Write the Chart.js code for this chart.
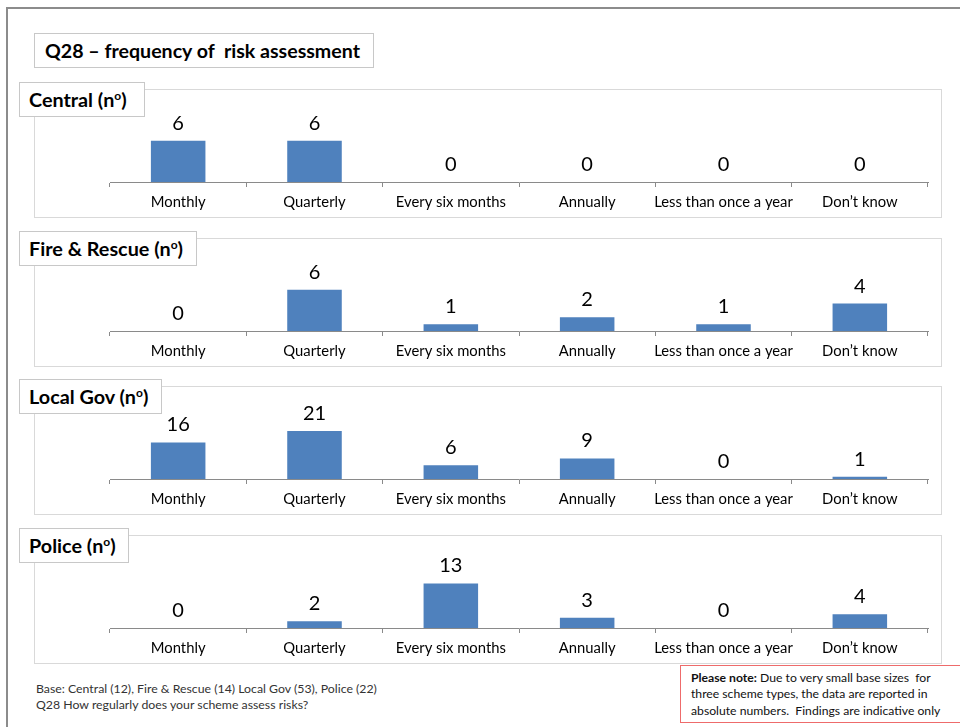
<!DOCTYPE html>
<html>
  <head>
    <meta charset="utf-8">
    <title>Q28 - frequency of risk assessment</title>
    <script src="https://cdn.jsdelivr.net/npm/chart.js@4.4.1/dist/chart.umd.min.js"></script>
    <style>
      body { margin: 0; background: #fff; font-family: Lato, 'Open Sans', sans-serif; }
      .pagina { position: relative; width: 960px; height: 727px; overflow: hidden; }
      .marco { position: absolute; left: 6px; top: 7px; width: 1000px; height: 800px;
               border-left: 2px solid #8c8c8c; border-top: 2px solid #8c8c8c; }
      .titulo { position: absolute; left: 34px; top: 33px; width: 340px; height: 35px; box-sizing: border-box;
                border: 1px solid #c8c8c8; background: #fff; font-weight: bold; font-size: 19.6px;
                line-height: 33px; padding-left: 10px; color: #000; white-space: nowrap; }
      .panel { position: absolute; left: 34px; width: 908px; height: 129px; box-sizing: border-box;
               border: 1px solid #d9d9d9; background: #fff; }
      .panel .lienzo { position: absolute; left: 0; top: 0; right: 0; bottom: 0; }
      .etiqueta { position: absolute; left: 19px; height: 35px; box-sizing: border-box; border: 1px solid #c8c8c8;
                  background: #fff; font-weight: bold; font-size: 19.8px; line-height: 33px; padding: 0 0 0 9px; color: #000;
                  white-space: nowrap; }
      .etiqueta sup { font-size: 12px; vertical-align: 7px; line-height: 0; }
      .base { position: absolute; left: 36px; top: 681px; font-size: 12.3px; line-height: 16px; color: #333; white-space: nowrap; }
      .nota { position: absolute; left: 680px; top: 665px; width: 290px; height: 58px; box-sizing: border-box;
              border: 1.5px solid #ee6b6b; font-size: 12.2px; line-height: 16.4px; padding: 4px 0 0 10px; color: #111;
              white-space: nowrap; }
    </style>
  </head>
  <body>
    <div class="pagina" id="pagina">
      <div class="marco"></div>
      <div class="titulo">Q28 – frequency of&nbsp; risk assessment</div>
      <div class="base">Base: Central (12), Fire &amp; Rescue (14) Local Gov (53), Police (22)<br>Q28 How regularly does your scheme assess risks?</div>
      <div class="nota"><b>Please note:</b> Due to very small base sizes&nbsp; for<br>three scheme types, the data are reported in<br>absolute numbers.&nbsp; Findings are indicative only</div>
    </div>

    <script>
      // datos
      const categories = ['Monthly', 'Quarterly', 'Every six months', 'Annually', 'Less than once a year', 'Don’t know']
      const central = [6, 6, 0, 0, 0, 0]
      const fireRescue = [0, 6, 1, 2, 1, 4]
      const localGov = [16, 21, 6, 9, 0, 1]
      const police = [0, 2, 13, 3, 0, 4]
      const panelTitles = ['Central', 'Fire & Rescue', 'Local Gov', 'Police']
      const axisMax = [7, 7, 21, 14]

      const series = [central, fireRescue, localGov, police]
      // posicion de cada recuadro y ancho de su etiqueta
      const panelTops = [89, 238, 386, 535]
      const labelWidths = [126, 178, 143, 110]

      // numeros encima de las barras
      const valueLabels = {
        id: 'valueLabels',
        afterDatasetsDraw(chart) {
          const ctx = chart.ctx
          const meta = chart.getDatasetMeta(0)
          ctx.save()
          ctx.font = '20px Lato, sans-serif'
          ctx.fillStyle = '#000'
          ctx.textAlign = 'center'
          ctx.textBaseline = 'alphabetic'
          meta.data.forEach(function (bar, i) {
            ctx.fillText(String(chart.data.datasets[0].data[i]), bar.x, bar.y - 11)
          })
          ctx.restore()
        }
      }

      var pagina = document.getElementById('pagina')

      series.forEach(function (valores, k) {
        var panel = document.createElement('div')
        panel.className = 'panel'
        panel.style.top = panelTops[k] + 'px'
        var lienzo = document.createElement('div')
        lienzo.className = 'lienzo'
        var canvas = document.createElement('canvas')
        lienzo.appendChild(canvas)
        panel.appendChild(lienzo)
        pagina.appendChild(panel)

        var etiqueta = document.createElement('div')
        etiqueta.className = 'etiqueta'
        etiqueta.style.top = (panelTops[k] - 7) + 'px'
        etiqueta.style.width = labelWidths[k] + 'px'
        etiqueta.textContent = panelTitles[k] + ' (n'
        var sup = document.createElement('sup')
        sup.textContent = 'o'
        etiqueta.appendChild(sup)
        etiqueta.appendChild(document.createTextNode(')'))
        pagina.appendChild(etiqueta)

        new Chart(canvas.getContext('2d'), {
          type: 'bar',
          data: {
            labels: categories,
            datasets: [{
              data: valores,
              backgroundColor: '#4f81bd',
              borderWidth: 0,
              categoryPercentage: 1,
              barPercentage: 0.4
            }]
          },
          options: {
            animation: false,
            responsive: true,
            maintainAspectRatio: false,
            layout: { padding: { left: 75, right: 13, top: 44, bottom: 0 } },
            plugins: { legend: { display: false }, tooltip: { enabled: false } },
            scales: {
              x: {
                offset: true,
                grid: { offset: true, drawOnChartArea: false, drawTicks: true, tickLength: 5, color: '#8a8a8a' },
                border: { display: true, color: '#8a8a8a' },
                ticks: { color: '#000', font: { family: 'Lato', size: 14.8 }, padding: 6, maxRotation: 0, autoSkip: false },
                afterFit: function (scale) { scale.height = 35 }
              },
              y: {
                display: false,
                min: 0,
                max: axisMax[k]
              }
            }
          },
          plugins: [valueLabels]
        })
      })
    </script>
  </body>
</html>
